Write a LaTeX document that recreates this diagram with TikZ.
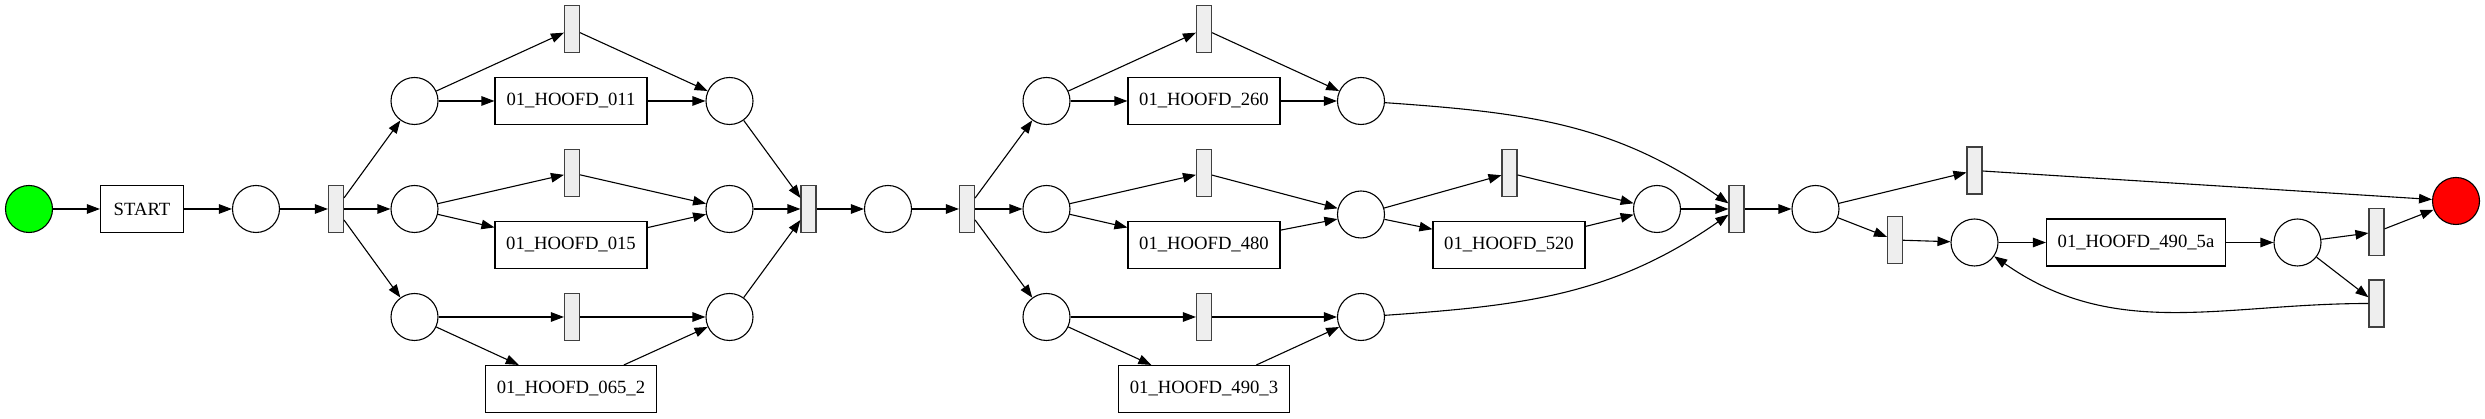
\documentclass[tikz,border=0pt]{standalone}
\usepackage{fontspec}
\setmainfont{Liberation Serif}
\usetikzlibrary{arrows.meta}
\definecolor{tfill}{HTML}{EEEEEE}
\definecolor{tdraw}{HTML}{404040}
\definecolor{pgreen}{HTML}{00FF00}
\definecolor{pred}{HTML}{FF0000}
\tikzset{
  place/.style={circle,draw=black,line width=1.1pt,minimum size=47pt,inner sep=0pt,fill=white},
  trans/.style={rectangle,draw=tdraw,line width=1.1pt,fill=tfill,minimum width=15pt,minimum height=47pt,inner sep=0pt},
  task/.style={rectangle,draw=black,line width=1.1pt,minimum height=47pt,inner sep=0pt,font=\fontsize{18.67}{20}\selectfont},
  arr/.style={line width=1.1pt,-{Triangle[length=13pt,width=9.5pt]}}
}
\begin{document}
\begin{tikzpicture}[x=1pt,y=1pt]
\useasboundingbox (0,0) rectangle (2485,419);
% nodes
\node[place,fill=pgreen] (g0) at (29,210) {};
\node[task,minimum width=83pt] (start) at (142,210) {START};
\node[place] (p1) at (256,210) {};
\node[trans] (t1) at (336,210) {};
\node[place] (c2a) at (414.5,318) {};
\node[place] (c2b) at (414.5,210) {};
\node[place] (c2c) at (414.5,102) {};
\node[trans] (ta) at (572,390) {};
\node[task,minimum width=152pt] (b011) at (571,318) {01\_HOOFD\_011};
\node[trans] (tb) at (572,246) {};
\node[task,minimum width=152pt] (b015) at (571,174) {01\_HOOFD\_015};
\node[trans] (tc) at (572,102) {};
\node[task,minimum width=171pt] (b065) at (571,30) {01\_HOOFD\_065\_2};
\node[place] (c3a) at (729.5,318) {};
\node[place] (c3b) at (729.5,210) {};
\node[place] (c3c) at (729.5,102) {};
\node[trans] (tj1) at (808.5,210) {};
\node[place] (p2) at (888,210) {};
\node[trans] (t2) at (967,210) {};
\node[place] (d1) at (1046.5,318) {};
\node[place] (d2) at (1046.5,210) {};
\node[place] (d3) at (1046.5,102) {};
\node[trans] (td) at (1204,390) {};
\node[task,minimum width=152pt] (b260) at (1204,318) {01\_HOOFD\_260};
\node[trans] (te) at (1204,246) {};
\node[task,minimum width=152pt] (b480) at (1204,174) {01\_HOOFD\_480};
\node[trans] (tf) at (1204,102) {};
\node[task,minimum width=171pt] (b4903) at (1204,30) {01\_HOOFD\_490\_3};
\node[place] (e1) at (1361,318) {};
\node[place] (e2) at (1361,204.5) {};
\node[place] (e3) at (1361,102) {};
\node[trans] (tg) at (1509.5,246) {};
\node[task,minimum width=152pt] (b520) at (1509,174) {01\_HOOFD\_520};
\node[place] (f2) at (1657,210) {};
\node[trans] (tj2) at (1736.5,210) {};
\node[place] (g) at (1815.5,210) {};
\node[trans] (tu) at (1974.5,248.5) {};
\node[trans] (tl) at (1895,179) {};
\node[place] (h) at (1974.5,176.5) {};
\node[task,minimum width=179pt] (b5a) at (2136,176.5) {01\_HOOFD\_490\_5a};
\node[place] (k) at (2297.5,176.5) {};
\node[trans] (tr1) at (2376.5,187) {};
\node[trans] (tr2) at (2376.5,115.5) {};
\node[place,fill=pred] (red) at (2456,218) {};
% edges
\draw[arr] (g0) -- (start);
\draw[arr] (start) -- (p1);
\draw[arr] (p1) -- (t1);
\draw[arr] (t1) -- (c2a);
\draw[arr] (t1) -- (c2b);
\draw[arr] (t1) -- (c2c);
\draw[arr] (c2a) -- (ta);
\draw[arr] (c2a) -- (b011);
\draw[arr] (ta) -- (c3a);
\draw[arr] (b011) -- (c3a);
\draw[arr] (c2b) -- (tb);
\draw[arr] (c2b) -- (b015);
\draw[arr] (tb) -- (c3b);
\draw[arr] (b015) -- (c3b);
\draw[arr] (c2c) -- (tc);
\draw[arr] (c2c) -- (b065);
\draw[arr] (tc) -- (c3c);
\draw[arr] (b065) -- (c3c);
\draw[arr] (c3a) -- (tj1);
\draw[arr] (c3b) -- (tj1);
\draw[arr] (c3c) -- (tj1);
\draw[arr] (tj1) -- (p2);
\draw[arr] (p2) -- (t2);
\draw[arr] (t2) -- (d1);
\draw[arr] (t2) -- (d2);
\draw[arr] (t2) -- (d3);
\draw[arr] (d1) -- (td);
\draw[arr] (d1) -- (b260);
\draw[arr] (td) -- (e1);
\draw[arr] (b260) -- (e1);
\draw[arr] (d2) -- (te);
\draw[arr] (d2) -- (b480);
\draw[arr] (te) -- (e2);
\draw[arr] (b480) -- (e2);
\draw[arr] (d3) -- (tf);
\draw[arr] (d3) -- (b4903);
\draw[arr] (tf) -- (e3);
\draw[arr] (b4903) -- (e3);
\draw[arr] (e2) -- (tg);
\draw[arr] (e2) -- (b520);
\draw[arr] (tg) -- (f2);
\draw[arr] (b520) -- (f2);
\draw[arr] (e1) to[out=-4,in=145] (tj2);
\draw[arr] (e3) to[out=4,in=-145] (tj2);
\draw[arr] (f2) -- (tj2);
\draw[arr] (tj2) -- (g);
\draw[arr] (g) -- (tu);
\draw[arr] (g) -- (tl);
\draw[arr] (tu) -- (red);
\draw[arr] (tl) -- (h);
\draw[arr] (h) -- (b5a);
\draw[arr] (b5a) -- (k);
\draw[arr] (k) -- (tr1);
\draw[arr] (k) -- (tr2);
\draw[arr] (tr1) -- (red);
\draw[arr] (tr2.west) to[out=180,in=-35] (h);
\end{tikzpicture}
\end{document}
